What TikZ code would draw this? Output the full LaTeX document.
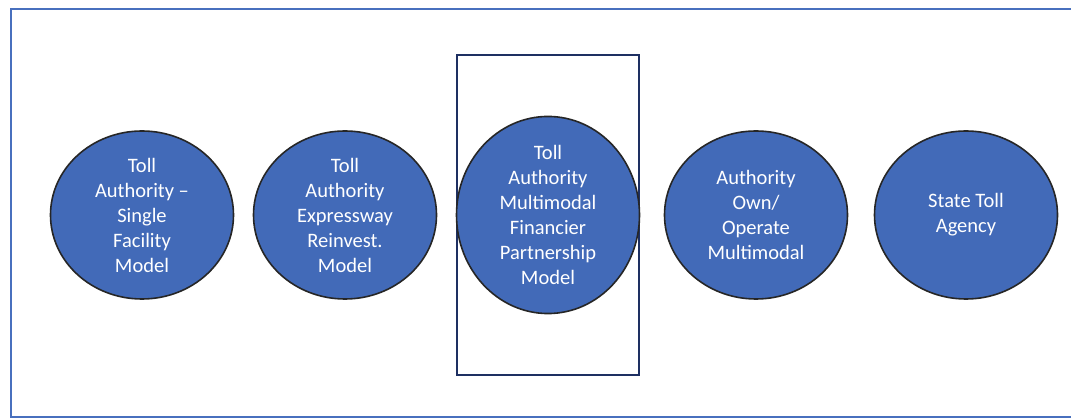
\documentclass[tikz,border=0pt]{standalone}
\usepackage{fontspec}
\setmainfont{Carlito}
\usetikzlibrary{shapes.geometric}

\definecolor{modelblue}{RGB}{66,106,184}
\definecolor{frameblue}{RGB}{72,112,190}
\definecolor{boxnavy}{RGB}{30,48,98}

\tikzset{
  model/.style = {ellipse, draw = black!85, line width = 1.6pt, fill = modelblue,
                  minimum width = 183pt, minimum height = 168pt, inner sep = 0pt,
                  text = white, align = center,
                  font = \fontsize{20.5}{25}\selectfont},
  focusbox/.style = {draw = boxnavy, line width = 1.8pt,
                     minimum width = 182pt, minimum height = 320pt}
}

\begin{document}
\begin{tikzpicture}[x = {(1pt, 0pt)},
                    y = {(0pt, -1pt)}]

  \useasboundingbox (0, 0) rectangle (1071, 419);

  % outer frame (open on the right)
  \draw[frameblue, line width = 2.5pt] (1075, 9) -- (11, 9) -- (11, 417) -- (1075, 417);

  % box round the third model
  \node[focusbox] (focus) at (548, 215) {};

  % models
  \node[model] (single)  at (142, 215) {Toll\\Authority --\\Single\\Facility\\Model};
  \node[model] (express) at (345, 215) {Toll\\Authority\\Expressway\\Reinvest.\\Model};
  \node[model] (multi)   at (548, 215) {Toll\\Authority\\Multimodal\\Financier\\Partnership\\Model};
  \node[model] (own)     at (756, 215) {Authority\\Own/\\Operate\\Multimodal};
  \node[model] (state)   at (966, 215) {State Toll\\Agency};
\end{tikzpicture}
\end{document}
